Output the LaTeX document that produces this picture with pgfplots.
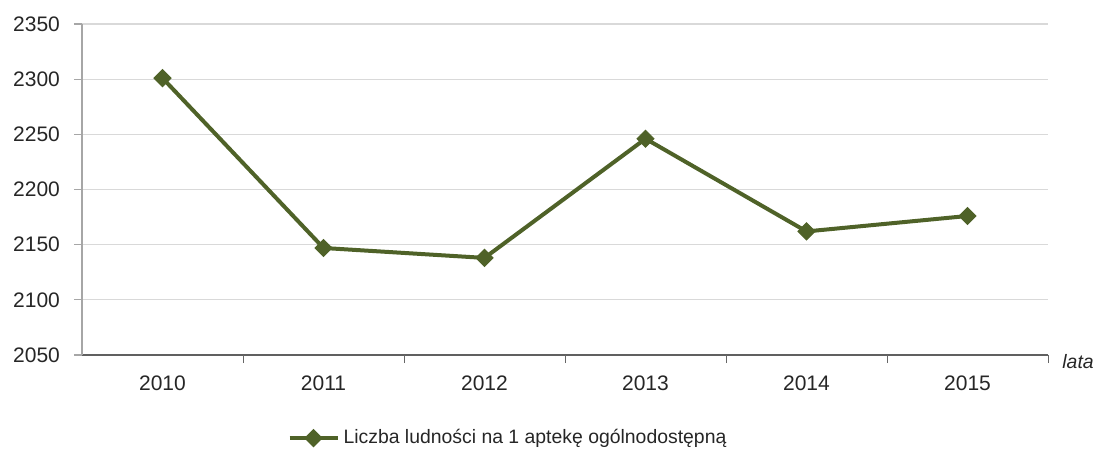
\documentclass[border=0pt]{standalone}
\usepackage{pgfplots}
\pgfplotsset{compat=1.18}
\usepackage{fontspec}
\setmainfont{Liberation Sans}
\definecolor{olive}{HTML}{4F6228}
\definecolor{gridc}{HTML}{D9D9D9}
\definecolor{txt}{HTML}{262626}
\begin{document}
\begin{tikzpicture}
\path[use as bounding box] (-41pt,-47.5pt) rectangle (507pt,177.5pt);
\begin{axis}[
  at={(0,0)}, anchor=south west,
  scale only axis, width=483pt, height=165.5pt,
  xmin=-0.5, xmax=5.5, ymin=2050, ymax=2350,
  ytick={2050,2100,...,2350},
  xtick={0,...,5},
  xticklabels={2010,2011,2012,2013,2014,2015},
  major x tick style={draw=none},
  extra x ticks={0.5,1.5,2.5,3.5,4.5,5.5},
  extra x tick labels={},
  extra x tick style={major tick length=4pt, tick align=outside, major x tick style={draw=gray!80!black}},
  axis lines=left,
  axis line style={-},
  x axis line style={draw=gray!75!black, line width=0.8pt},
  y axis line style={draw=gray!70, line width=0.8pt},
  tick align=outside,
  major tick length=4pt,
  ytick style={draw=gray!70, line width=0.6pt},
  ymajorgrids, grid style={gridc, line width=0.6pt},
  /pgf/number format/1000 sep={},
  /pgf/number format/assume math mode=true,
  tick label style={font=\fontsize{10.5}{12}\selectfont, text=txt},
  yticklabel style={xshift=-3.5pt},
  xticklabel style={yshift=-3pt},
  legend style={draw=none, at={(0.442,-0.251)}, anchor=center, font=\fontsize{9.7}{11}\selectfont, text=txt, fill=none},
  legend image code/.code={
    \draw[#1, line width=2pt] (0pt,0pt) -- (24pt,0pt);
    \draw[#1, mark repeat=1] plot coordinates {(12pt,0pt)};
  },
  clip=false,
]
\addplot[olive, line width=2pt, mark=square*, mark size=3pt, mark options={rotate=45, fill=olive, draw=olive, line width=0.5pt}]
  coordinates {(0,2301) (1,2147) (2,2138) (3,2246) (4,2162) (5,2176)};
\addlegendentry{Liczba ludności na 1 aptekę ogólnodostępną}
\node[font=\fontsize{9.7}{11}\selectfont\itshape, text=txt, anchor=west, inner sep=0pt] at (rel axis cs:1.0145,-0.021) {lata};
\end{axis}
\end{tikzpicture}
\end{document}
